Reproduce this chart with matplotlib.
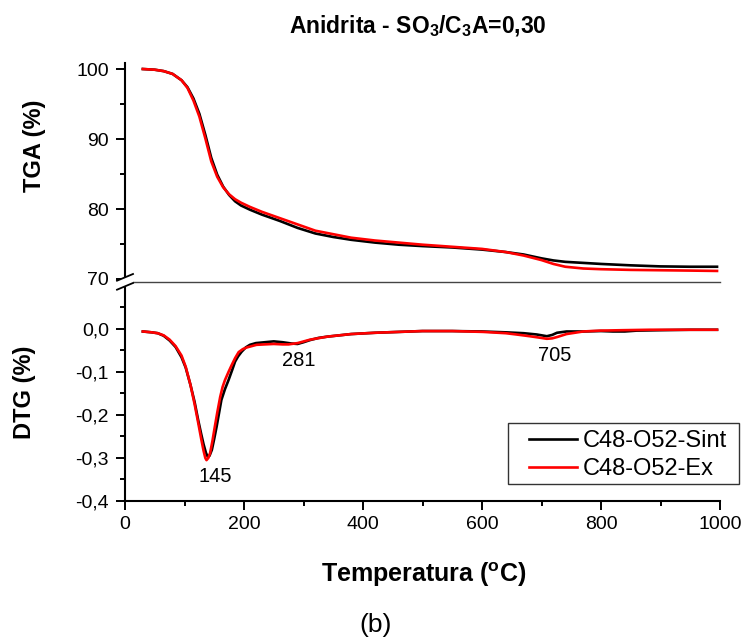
import matplotlib
matplotlib.use("Agg")
import matplotlib.pyplot as plt
from matplotlib.lines import Line2D
from matplotlib.patches import Polygon, Rectangle
from matplotlib.ticker import FixedLocator, FuncFormatter

plt.rcParams["font.family"] = ["Liberation Sans", "DejaVu Sans"]
plt.rcParams["mathtext.fontset"] = "custom"
plt.rcParams["mathtext.rm"] = "Liberation Sans"
plt.rcParams["mathtext.bf"] = "Liberation Sans:bold"

# ── data ─────────────────────────────────────────────────────────────────────
labels = ["C48-O52-Sint", "C48-O52-Ex"]
colors = ["black", "red"]

tga_temp_sint = [30, 50, 65, 80, 95, 105, 115, 125, 135, 145, 155, 165, 175, 185,
                 195, 210, 230, 260, 290, 320, 350, 380, 420, 460, 500, 550, 600,
                 640, 670, 700, 720, 740, 770, 800, 850, 900, 950, 995]
tga_sint = [100.0, 99.9, 99.7, 99.3, 98.4, 97.4, 95.8, 93.6, 90.6, 87.3, 84.9,
            83.2, 82.0, 81.1, 80.5, 79.9, 79.2, 78.3, 77.3, 76.5, 76.0, 75.6,
            75.2, 74.9, 74.7, 74.5, 74.2, 73.85, 73.5, 72.95, 72.65, 72.45,
            72.3, 72.15, 71.95, 71.8, 71.75, 71.75]

tga_temp_ex = [30, 50, 65, 80, 95, 105, 115, 125, 135, 145, 155, 165, 175, 185,
               195, 210, 230, 260, 290, 320, 350, 380, 420, 460, 500, 550, 600,
               640, 670, 700, 720, 740, 770, 800, 850, 900, 950, 995]
tga_ex = [100.0, 99.9, 99.7, 99.3, 98.4, 97.3, 95.5, 93.2, 90.1, 86.8, 84.6,
          83.1, 82.1, 81.4, 80.9, 80.3, 79.6, 78.7, 77.8, 76.9, 76.4, 75.9,
          75.5, 75.2, 74.9, 74.6, 74.3, 73.85, 73.35, 72.7, 72.15, 71.75,
          71.5, 71.4, 71.3, 71.25, 71.2, 71.15]

dtg_temp_sint = [30, 45, 55, 65, 75, 85, 95, 102, 110, 117, 123, 128, 132, 136,
                 139, 142, 146, 150, 154, 158, 162, 168, 174, 180, 185, 190, 196,
                 203, 210, 220, 235, 250, 265, 280, 290, 300, 311, 325, 340, 360,
                 380, 420, 460, 500, 550, 600, 640, 670, 692, 709, 718, 726, 742,
                 770, 800, 820, 840, 860, 900, 950, 995]
dtg_sint = [-0.006, -0.008, -0.010, -0.016, -0.027, -0.042, -0.066, -0.090,
            -0.130, -0.170, -0.212, -0.244, -0.268, -0.288, -0.297, -0.295,
            -0.281, -0.255, -0.227, -0.196, -0.165, -0.140, -0.119, -0.096,
            -0.076, -0.064, -0.053, -0.043, -0.037, -0.033, -0.031, -0.029,
            -0.031, -0.034, -0.035, -0.031, -0.026, -0.021, -0.018, -0.015,
            -0.012, -0.009, -0.007, -0.005, -0.005, -0.006, -0.008, -0.010,
            -0.013, -0.017, -0.014, -0.009, -0.006, -0.006, -0.005, -0.006,
            -0.006, -0.004, -0.003, -0.002, -0.002]

dtg_temp_ex = [30, 45, 55, 65, 75, 85, 95, 102, 110, 117, 123, 128, 132, 135,
               137, 140, 143, 147, 151, 155, 160, 164, 168, 174, 179, 185, 191,
               198, 205, 213, 221, 235, 250, 265, 275, 290, 311, 340, 360, 380,
               420, 460, 500, 550, 602, 640, 658, 680, 695, 709, 718, 726, 742,
               770, 798, 837, 882, 950, 995]
dtg_ex = [-0.006, -0.008, -0.010, -0.015, -0.025, -0.040, -0.062, -0.088,
          -0.130, -0.175, -0.218, -0.255, -0.283, -0.300, -0.305, -0.300,
          -0.289, -0.260, -0.227, -0.195, -0.158, -0.135, -0.119, -0.100,
          -0.085, -0.068, -0.054, -0.047, -0.043, -0.040, -0.037, -0.036,
          -0.035, -0.036, -0.036, -0.033, -0.025, -0.018, -0.015, -0.012,
          -0.009, -0.007, -0.005, -0.005, -0.007, -0.010, -0.013, -0.017,
          -0.020, -0.023, -0.022, -0.019, -0.012, -0.006, -0.004, -0.003,
          -0.002, -0.002, -0.002]

peak_temps = [145, 281, 705]
peak_labels = ["145", "281", "705"]
peak_dtg = [-0.305, -0.035, -0.023]

# ── layout (pixels in a 747x643 canvas) ──────────────────────────────────────
W, H = 747, 643
fig = plt.figure(figsize=(W / 100, H / 100), dpi=100)


def px_rect(x0, y0, x1, y1):
    return [x0 / W, 1 - y1 / H, (x1 - x0) / W, (y1 - y0) / H]


ax_top = fig.add_axes(px_rect(125, 63, 720, 282))
ax_bot = fig.add_axes(px_rect(125, 282, 720, 501))

lw = 1.9
for T, v, c, lab in [(tga_temp_sint, tga_sint, colors[0], labels[0]),
                     (tga_temp_ex, tga_ex, colors[1], labels[1])]:
    ax_top.plot(T, v, color=c, lw=lw, label=lab, solid_joinstyle="round")
for T, v, c, lab in [(dtg_temp_sint, dtg_sint, colors[0], labels[0]),
                     (dtg_temp_ex, dtg_ex, colors[1], labels[1])]:
    ax_bot.plot(T, v, color=c, lw=lw, label=lab, solid_joinstyle="round")

for ax in (ax_top, ax_bot):
    ax.set_xlim(0, 1000)
    ax.spines["right"].set_visible(False)
    ax.spines["left"].set_linewidth(1.5)
    ax.tick_params(which="major", direction="out", length=6.5, width=1.4,
                   labelsize=14, pad=5)
    ax.tick_params(which="minor", direction="out", length=3.8, width=1.4)

# top panel: TGA
ax_top.set_ylim(69.57, 100.86)
ax_top.spines["top"].set_visible(False)
ax_top.spines["bottom"].set_visible(False)
ax_top.tick_params(axis="x", which="both", bottom=False, labelbottom=False)
ax_top.yaxis.set_major_locator(FixedLocator([70, 80, 90, 100]))
ax_top.yaxis.set_minor_locator(FixedLocator([75, 85, 95]))

# bottom panel: DTG
ax_bot.set_ylim(-0.4, 0.109)
ax_bot.spines["top"].set_color("#444444")
ax_bot.spines["top"].set_linewidth(1.0)
ax_bot.spines["bottom"].set_linewidth(1.5)
ax_bot.yaxis.set_major_locator(FixedLocator([-0.4, -0.3, -0.2, -0.1, 0.0]))
ax_bot.yaxis.set_minor_locator(FixedLocator([-0.35, -0.25, -0.15, -0.05, 0.05, 0.1]))
ax_bot.yaxis.set_major_formatter(
    FuncFormatter(lambda v, p: f"{v:.1f}".replace(".", ",").replace("-0,0", "0,0")))
ax_bot.xaxis.set_major_locator(FixedLocator(range(0, 1001, 200)))
ax_bot.xaxis.set_minor_locator(FixedLocator(range(100, 1000, 200)))
ax_bot.tick_params(axis="x", which="major", pad=4)

# label offsets (points) so the numbers sit where the original put them
label_dx = [3, 5, 7]
for t, lab, v, dx in zip(peak_temps, peak_labels, peak_dtg, label_dx):
    ax_bot.annotate(lab, (t, v), xytext=(dx, -5), textcoords="offset points",
                    ha="center", va="top", fontsize=14.5)

# legend without its own frame; the box is drawn separately so it can
# stick out past the right end of the axis like in the original
leg = ax_bot.legend(loc="upper left", bbox_to_anchor=((529 - 125) / 595, (501 - 430) / 219),
                    fontsize=17, frameon=False, borderpad=0, labelspacing=0.26,
                    handlelength=2.03, handletextpad=0.25, borderaxespad=0)
fig.add_artist(Rectangle((508 / W, 1 - 484 / H), (739 - 508) / W, (484 - 423) / H,
                         transform=fig.transFigure, facecolor="none",
                         edgecolor="#333333", lw=1.0))

# axis break marks on the left spine
fig.add_artist(Polygon([(117 / W, 1 - 280.7 / H), (133 / W, 1 - 274 / H),
                        (133 / W, 1 - 283 / H), (117 / W, 1 - 289.7 / H)],
                       closed=True, facecolor="white", edgecolor="none",
                       transform=fig.transFigure))
for y0, y1 in [(280.7, 274), (289.7, 283)]:
    fig.add_artist(Line2D([117 / W, 133 / W], [1 - y0 / H, 1 - y1 / H],
                          color="black", lw=1.3, transform=fig.transFigure))

# texts
fig.text(418 / W, 1 - 33 / H, r"Anidrita - SO$_\mathbf{3}$/C$_\mathbf{3}$A=0,30",
         ha="center", va="baseline", fontsize=16.5, fontweight="bold")
fig.text(34 / W, 1 - 146 / H, "TGA (%)", rotation=90, ha="center", va="center",
         fontsize=17, fontweight="bold")
fig.text(25 / W, 1 - 392 / H, "DTG (%)", rotation=90, ha="center", va="center",
         fontsize=17, fontweight="bold")
fig.text(424 / W, 1 - 582 / H, r"Temperatura ($^\mathbf{o}$C)", ha="center",
         va="baseline", fontsize=18, fontweight="bold")
fig.text(376 / W, 1 - 632 / H, "(b)", ha="center", va="baseline", fontsize=19)

fig.savefig("out.png", dpi=100)
